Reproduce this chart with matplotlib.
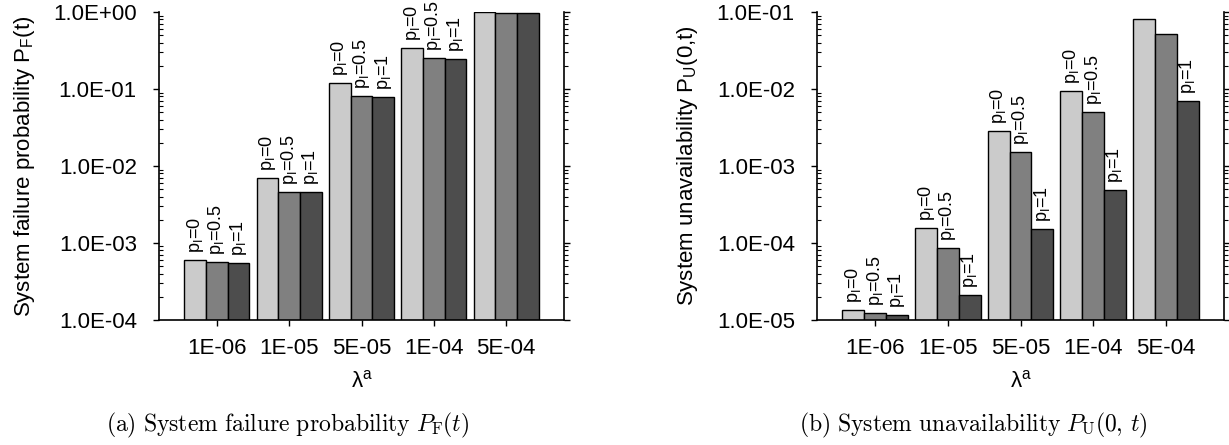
import matplotlib
matplotlib.use("Agg")
import matplotlib.pyplot as plt
import numpy as np
from matplotlib.ticker import FuncFormatter, LogLocator

plt.rcParams['font.family'] = ['Liberation Sans', 'DejaVu Sans']
plt.rcParams['mathtext.default'] = 'regular'

# data
lambdas = ["1E-06", "1E-05", "5E-05", "1E-04", "5E-04"]
p_labels = ["p$_I$=0", "p$_I$=0.5", "p$_I$=1"]

pf_p0 = [5.96e-4, 6.9e-3, 0.1196, 0.344, 0.99]
pf_p05 = [5.6e-4, 4.64e-3, 0.081, 0.250, 0.97]
pf_p1 = [5.5e-4, 4.55e-3, 0.0796, 0.245, 0.97]

pu_p0 = [1.36e-5, 1.57e-4, 2.87e-3, 9.4e-3, 0.081]
pu_p05 = [1.23e-5, 8.5e-5, 1.51e-3, 4.98e-3, 0.0518]
pu_p1 = [1.16e-5, 2.1e-5, 1.51e-4, 4.83e-4, 6.9e-3]

colors = ["#cbcbcb", "#808080", "#4d4d4d"]

fig = plt.figure(figsize=(12.29, 4.45), dpi=100)
ax_a = fig.add_axes([0.1294, 0.281, 0.3295, 0.692])
ax_b = fig.add_axes([0.6648, 0.281, 0.3311, 0.692])


def draw(ax, series, ylim, ylabel):
    x = np.arange(len(lambdas))
    w = 0.3
    for i, vals in enumerate(series):
        bars = ax.bar(x + (i - 1) * w, vals, w, color=colors[i],
                      edgecolor="black", linewidth=1.0, zorder=2)
        for b, v in zip(bars, vals):
            # skip labels that would run off the top of the plot
            if np.log10(ylim[1] / v) < 0.4:
                continue
            ax.annotate(p_labels[i], (b.get_x() + b.get_width() / 2, v),
                        xytext=(0, 5), textcoords="offset points",
                        rotation=90, ha="center", va="bottom", fontsize=13,
                        annotation_clip=False)
    ax.set_yscale("log")
    ax.set_ylim(*ylim)
    ax.set_xlim(-0.8, len(lambdas) - 0.2)
    ax.set_xticks(x)
    ax.set_xticklabels(lambdas, fontsize=16)
    ax.yaxis.set_major_locator(LogLocator(base=10))
    ax.yaxis.set_major_formatter(FuncFormatter(lambda v, p: f"{v:.1E}"))
    ax.yaxis.set_minor_locator(LogLocator(base=10, subs=np.arange(2, 10)))
    ax.tick_params(axis="y", which="major", direction="out", length=4,
                   width=1, pad=12, labelsize=16)
    ax.tick_params(axis="y", which="minor", direction="in", length=3, width=0.8)
    ax.tick_params(axis="x", direction="out", length=4, width=1, pad=9)
    ax.spines["top"].set_visible(False)
    for s in ["left", "bottom", "right"]:
        ax.spines[s].set_linewidth(1.2)
    ax.set_ylabel(ylabel, fontsize=16, labelpad=12)
    ax.set_xlabel("λ$^a$", fontsize=16, labelpad=8)

    # right side ticks, all pointing outward
    tw = ax.twinx()
    tw.set_yscale("log")
    tw.set_ylim(*ylim)
    tw.yaxis.set_minor_locator(LogLocator(base=10, subs=np.arange(2, 10)))
    tw.tick_params(axis="y", which="major", direction="out", length=4,
                   width=1, labelright=False)
    tw.tick_params(axis="y", which="minor", direction="out", length=3, width=0.8)
    for s in tw.spines.values():
        s.set_visible(False)


draw(ax_a, [pf_p0, pf_p05, pf_p1], (1e-4, 1.0),
     "System failure probability P$_F$(t)")
draw(ax_b, [pu_p0, pu_p05, pu_p1], (1e-5, 1e-1),
     "System unavailability P$_U$(0,t)")

cap_a = r"$\mathrm{(a)\ System\ failure\ probability\ }\mathit{P}_{\mathrm{F}}\mathrm{(}\mathit{t}\mathrm{)}$"
cap_b = r"$\mathrm{(b)\ System\ unavailability\ }\mathit{P}_{\mathrm{U}}\mathrm{(0,\,}\mathit{t}\mathrm{)}$"
fig.text(0.234, 0.045, cap_a, ha="center", va="center", fontsize=17,
         math_fontfamily="cm")
fig.text(0.792, 0.045, cap_b, ha="center", va="center", fontsize=17,
         math_fontfamily="cm")

fig.savefig("out.png", dpi=100)
